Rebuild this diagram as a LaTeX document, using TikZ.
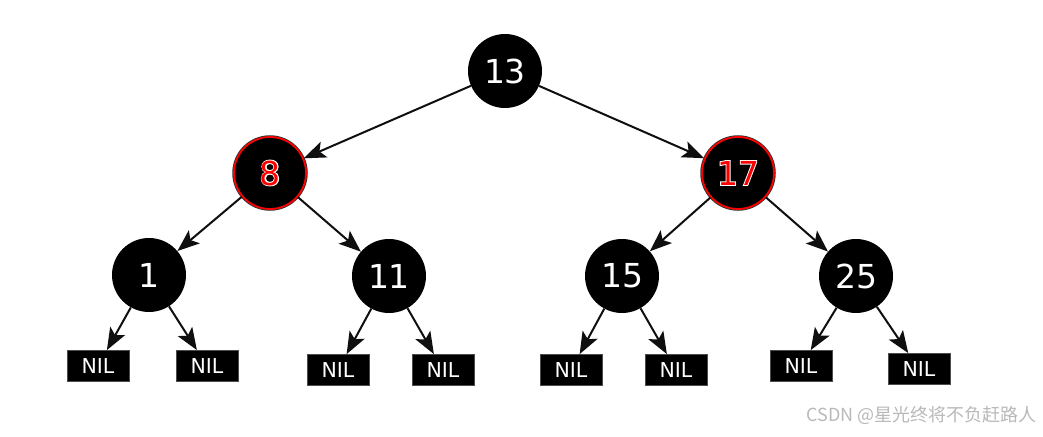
\documentclass[tikz,border=0pt]{standalone}
\usepackage{fontspec}
\usetikzlibrary{arrows.meta}
\newfontfamily\dv{DejaVu Sans}
\newfontfamily\cjk{Noto Sans CJK SC}
\definecolor{edgegray}{RGB}{15,15,15}
\definecolor{wm}{RGB}{185,185,185}
\newcommand\outl[1]{\rlap{\color{white}\special{pdf:literal direct 2 Tr 1 1 1 RG 1.8 w}#1\special{pdf:literal direct 0 Tr}}#1}
\begin{document}
\begin{tikzpicture}[x=1pt,y=-1pt,
  numfont/.style={font=\dv\fontsize{33}{33}\selectfont},
  blk/.style={circle, fill=black, minimum size=74pt, inner sep=0pt, text=white, numfont},
  rednode/.style={circle, fill=black, minimum size=72pt, inner sep=0pt,
    preaction={draw=black!80, line width=3.5pt}, draw=red, line width=1.8pt, text=red, numfont},
  nil/.style={rectangle, fill=black, draw=black!70, line width=0.8pt, minimum width=62pt, minimum height=31pt,
    inner sep=0pt, text=white, font=\dv\fontsize{20.5}{20.5}\selectfont},
  arr/.style={-{Stealth[length=22pt,width=17pt,inset=5pt]}, line width=2pt, draw=edgegray}]
\useasboundingbox (0,0) rectangle (1043,436);
\fill[white] (0,0) rectangle (1043,436);

\node[blk] (n13) at (505,71) {13};
\node[rednode] (n8) at (270,173) {\outl{8}};
\node[rednode] (n17) at (738,173) {\outl{17}};

\node[blk] (n1) at (149,275) {1};
\node[blk] (n11) at (389,276) {11};
\node[blk] (n15) at (622,276) {15};
\node[blk] (n25) at (856,276) {25};

\node[nil] (a1) at (98,366) {NIL};
\node[nil] (a2) at (207,366) {NIL};
\node[nil] (b1) at (338,370) {NIL};
\node[nil] (b2) at (443,370) {NIL};
\node[nil] (c1) at (571,370) {NIL};
\node[nil] (c2) at (676,370) {NIL};
\node[nil] (d1) at (801,366) {NIL};
\node[nil] (d2) at (919,369) {NIL};

\draw[arr] (n13) -- (n8);
\draw[arr] (n13) -- (n17);
\draw[arr] (n8) -- (n1);
\draw[arr] (n8) -- (n11);
\draw[arr] (n17) -- (n15);
\draw[arr] (n17) -- (n25);
\draw[arr] (n1) -- (a1);
\draw[arr] (n1) -- (a2);
\draw[arr] (n11) -- (b1);
\draw[arr] (n11) -- (b2);
\draw[arr] (n15) -- (c1);
\draw[arr] (n15) -- (c2);
\draw[arr] (n25) -- (d1);
\draw[arr] (n25) -- (d2);

\node[anchor=east, text=wm, font=\cjk\fontsize{18}{18}\selectfont, inner sep=0pt] (wmk) at (1037,415) {CSDN @星光终将不负赶路人};
\end{tikzpicture}
\end{document}
